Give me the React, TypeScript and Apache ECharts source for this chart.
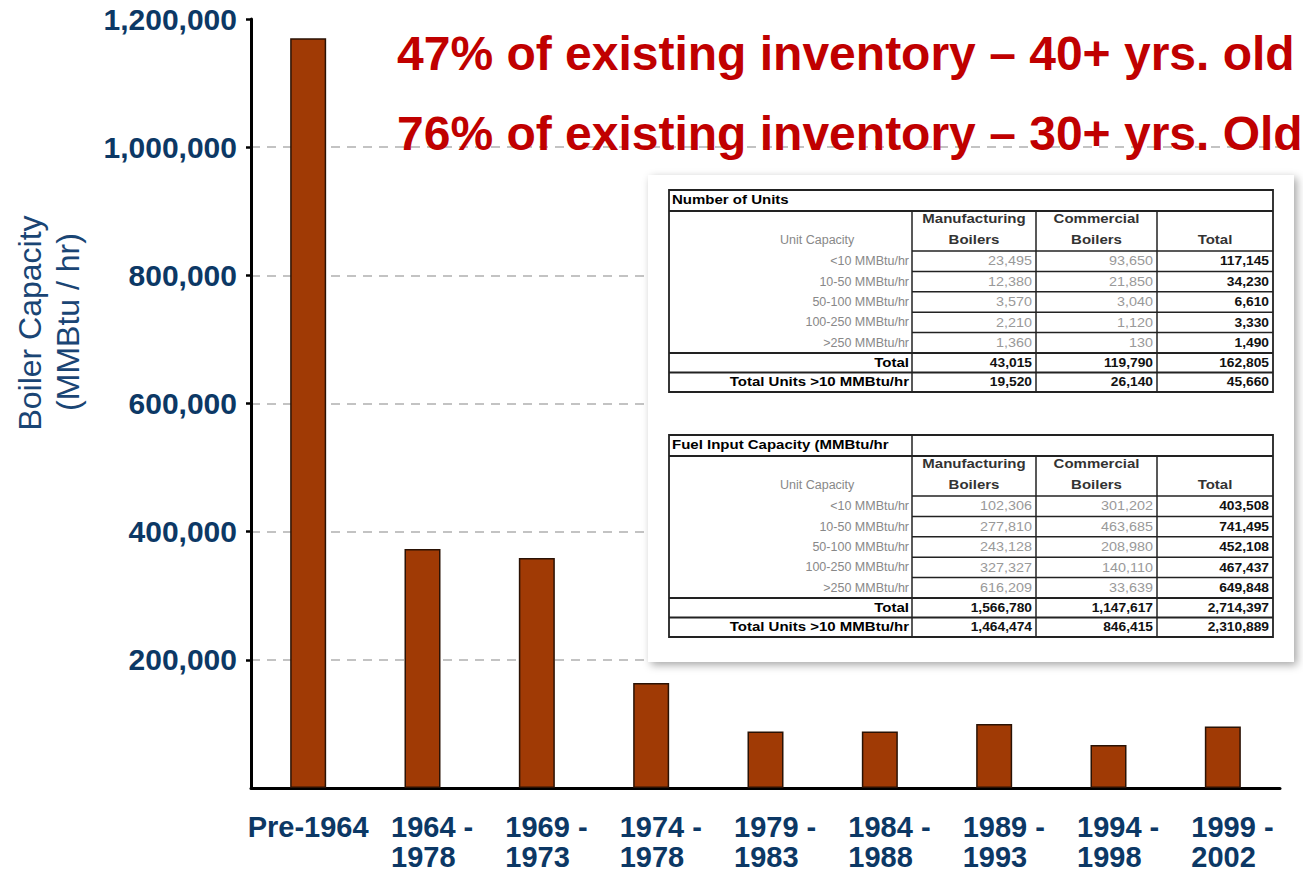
import React, { useEffect, useRef } from "react";
import * as echarts from "echarts";

const categories = ["Pre-1964", "1964 -\n1978", "1969 -\n1973", "1974 -\n1978", "1979 -\n1983", "1984 -\n1988", "1989 -\n1993", "1994 -\n1998", "1999 -\n2002"];
const capacity = [1170000, 373000, 359000, 164000, 88000, 88000, 100000, 67000, 96000];
const yTicks = [0, 200000, 400000, 600000, 800000, 1000000, 1200000];

const headlines = ["47% of existing inventory \u2013 40+ yrs. old", "76% of existing inventory \u2013 30+ yrs. Old"];
const yTitle = ["Boiler Capacity", "(MMBtu / hr)"];

const rowLabels = ["<10 MMBtu/hr", "10-50 MMBtu/hr", "50-100 MMBtu/hr", "100-250 MMBtu/hr", ">250 MMBtu/hr"];
const unitsMfg = ["23,495", "12,380", "3,570", "2,210", "1,360"];
const unitsCom = ["93,650", "21,850", "3,040", "1,120", "130"];
const unitsTot = ["117,145", "34,230", "6,610", "3,330", "1,490"];
const unitsTotals = ["43,015", "119,790", "162,805"];
const unitsOver10 = ["19,520", "26,140", "45,660"];
const fuelMfg = ["102,306", "277,810", "243,128", "327,327", "616,209"];
const fuelCom = ["301,202", "463,685", "208,980", "140,110", "33,639"];
const fuelTot = ["403,508", "741,495", "452,108", "467,437", "649,848"];
const fuelTotals = ["1,566,780", "1,147,617", "2,714,397"];
const fuelOver10 = ["1,464,474", "846,415", "2,310,889"];

const NAVY = "#0c3865";
const FONT = "'Liberation Sans', Arial, Helvetica, sans-serif";

function txt(x: number, y: number, text: string, o: any = {}) {
  const align = o.align || "left";
  return {
    type: "text",
    x,
    y,
    z: 110,
    scaleX: o.scaleX || 1,
    style: {
      text,
      fontSize: o.size || 12,
      fontWeight: o.bold ? "bold" : "normal",
      fontFamily: FONT,
      fill: o.color || "#000",
      textAlign: align,
      align,
      textVerticalAlign: "middle",
      verticalAlign: "middle",
    },
  };
}

function ln(x1: number, y1: number, x2: number, y2: number, w = 1.5, c = "#222") {
  return { type: "line", z: 108, shape: { x1, y1, x2, y2 }, style: { stroke: c, lineWidth: w } };
}

function makeTable(top: number, title: string, titleBoxed: boolean, mfg: string[], com: string[], tot: string[], totals: string[], over: string[]) {
  const c0 = 669, c1 = 912, c2 = 1036, c3 = 1157, c4 = 1273;
  const els: any[] = [];
  const hTitle = top + 21;
  const hHead = top + 61;
  const rowH = 20.4;
  const hTotal = hHead + rowH * 5;
  const hOver = hTotal + 19.5;
  const bottom = hOver + 19.5;
  els.push({ type: "rect", z: 107, shape: { x: c0, y: top, width: c4 - c0, height: bottom - top }, style: { fill: "#fff", stroke: "#222", lineWidth: 1.8 } });
  els.push(ln(c0, hTitle, c4, hTitle, 2.2));
  if (titleBoxed) els.push(ln(c1, top, c1, hTitle, 1.5));
  [c1, c2, c3].forEach((cx) => els.push(ln(cx, hTitle, cx, bottom, 1.5)));
  for (let i = 0; i < 5; i++) els.push(ln(c1, hHead + rowH * i, c4, hHead + rowH * i, 1.5));
  els.push(ln(c0, hTotal, c4, hTotal, 2));
  els.push(ln(c0, hOver, c4, hOver, 2));
  const S = 1.25;
  els.push(txt(c0 + 3, top + 10.5, title, { bold: true, size: 12, scaleX: S }));
  els.push(txt(780, top + 50, "Unit Capacity", { size: 12.5, color: "#888" }));
  els.push(txt((c1 + c2) / 2, top + 29, "Manufacturing", { bold: true, size: 12, color: "#333", align: "center", scaleX: S }));
  els.push(txt((c1 + c2) / 2, top + 50, "Boilers", { bold: true, size: 12, color: "#333", align: "center", scaleX: S }));
  els.push(txt((c2 + c3) / 2, top + 29, "Commercial", { bold: true, size: 12, color: "#333", align: "center", scaleX: S }));
  els.push(txt((c2 + c3) / 2, top + 50, "Boilers", { bold: true, size: 12, color: "#333", align: "center", scaleX: S }));
  els.push(txt((c3 + c4) / 2, top + 50, "Total", { bold: true, size: 12, color: "#333", align: "center", scaleX: S }));
  for (let i = 0; i < 5; i++) {
    const cy = hHead + rowH * i + rowH / 2;
    els.push(txt(c1 - 3, cy, rowLabels[i], { size: 12.5, color: "#888", align: "right" }));
    els.push(txt(c2 - 4, cy, mfg[i], { size: 12.5, color: "#999", align: "right", scaleX: 1.15 }));
    els.push(txt(c3 - 4, cy, com[i], { size: 12.5, color: "#999", align: "right", scaleX: 1.15 }));
    els.push(txt(c4 - 4, cy, tot[i], { size: 12, bold: true, color: "#111", align: "right", scaleX: 1.15 }));
  }
  const ty = hTotal + 9.75;
  const oy = hOver + 9.75;
  els.push(txt(c1 - 3, ty, "Total", { size: 12, bold: true, align: "right", scaleX: S }));
  els.push(txt(c1 - 3, oy, "Total Units >10 MMBtu/hr", { size: 12, bold: true, align: "right", scaleX: S }));
  [c2, c3, c4].forEach((cx, k) => {
    els.push(txt(cx - 4, ty, totals[k], { size: 12, bold: true, color: "#111", align: "right", scaleX: 1.15 }));
    els.push(txt(cx - 4, oy, over[k], { size: 12, bold: true, color: "#111", align: "right", scaleX: 1.15 }));
  });
  return els;
}

export default function App() {
  const ref = useRef<HTMLDivElement>(null);
  useEffect(() => {
    if (!ref.current) return;
    const chart = echarts.init(ref.current, null, { renderer: "svg" });
    const graphics: any[] = [
      {
        type: "rect",
        z: 100,
        shape: { x: 648, y: 175, width: 646, height: 487 },
        style: { fill: "#fff", shadowBlur: 8, shadowColor: "rgba(0,0,0,0.35)", shadowOffsetX: 3, shadowOffsetY: 3 },
      },
      ...makeTable(190, "Number of Units", false, unitsMfg, unitsCom, unitsTot, unitsTotals, unitsOver10),
      ...makeTable(435, "Fuel Input Capacity (MMBtu/hr", true, fuelMfg, fuelCom, fuelTot, fuelTotals, fuelOver10),
      txt(397, 53, headlines[0], { size: 48, bold: true, color: "#c00000" }),
      txt(397, 133, headlines[1], { size: 48, bold: true, color: "#c00000" }),
      { ...txt(30, 323, yTitle[0], { size: 32, color: "#1a4574", align: "center" }), rotation: Math.PI / 2 },
      { ...txt(68, 322, yTitle[1], { size: 32, color: "#1a4574", align: "center" }), rotation: Math.PI / 2 },
    ];
    chart.setOption({
      animation: false,
      backgroundColor: "#fff",
      grid: { left: 251, right: 23, top: 19, bottom: 88, containLabel: false, outerBoundsMode: "none" },
      xAxis: {
        type: "category",
        data: categories,
        boundaryGap: true,
        axisLine: { lineStyle: { color: "#000", width: 3 } },
        axisTick: { length: 7, lineStyle: { color: "#000", width: 2.5 } },
        axisLabel: {
          interval: 0,
          margin: 24,
          formatter: (v: string) => {
            const parts = v.split("\n");
            if (parts.length === 1) return "{p|" + v + "}";
            return "{a|" + parts[0] + "}\n{a|" + parts[1] + "}";
          },
          rich: {
            p: { fontSize: 29, fontWeight: "bold", color: NAVY, fontFamily: FONT, lineHeight: 30 },
            a: { fontSize: 29, fontWeight: "bold", color: NAVY, fontFamily: FONT, lineHeight: 30, width: 63, align: "left" },
          },
        },
      },
      yAxis: {
        type: "value",
        min: yTicks[0],
        max: yTicks[yTicks.length - 1],
        interval: 200000,
        axisLine: { show: true, lineStyle: { color: "#000", width: 3 } },
        axisTick: { show: true, length: 5, lineStyle: { color: "#000", width: 2.5 } },
        axisLabel: {
          margin: 14,
          fontSize: 30,
          fontWeight: "bold",
          color: NAVY,
          fontFamily: FONT,
          showMinLabel: false,
          formatter: (v: number) => (v === 0 ? "" : v.toLocaleString("en-US")),
        },
        splitLine: {
          show: true,
          lineStyle: {
            type: [9, 7],
            width: 1.5,
            color: ["transparent", "#b0b0b0", "#b0b0b0", "#b0b0b0", "#b0b0b0", "#b0b0b0", "transparent"],
          },
        },
      },
      series: [
        {
          type: "bar",
          data: capacity,
          barWidth: 36,
          itemStyle: { color: "#a03a05", borderColor: "#2a1205", borderWidth: 1.5 },
        },
      ],
      graphic: { elements: graphics },
    });
    return () => chart.dispose();
  }, []);
  return <div ref={ref} style={{ position: "fixed", left: 0, top: 0, width: 1303, height: 876 }} />;
}
